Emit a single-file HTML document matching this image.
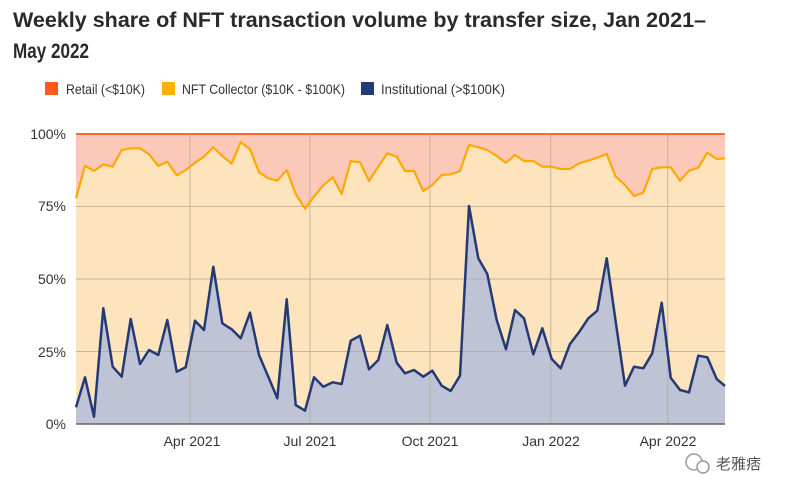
<!DOCTYPE html>
<html><head><meta charset="utf-8"><style>
body{margin:0;background:#fff;width:800px;height:498px;overflow:hidden;font-family:"Liberation Sans",sans-serif}
svg text{font-family:"Liberation Sans","Noto Sans CJK SC",sans-serif}
</style></head><body>
<svg width="800" height="498" viewBox="0 0 800 498">
<text x="13" y="27" font-size="21" font-weight="bold" fill="#2a2a2a" textLength="693" lengthAdjust="spacingAndGlyphs">Weekly share of NFT transaction volume by transfer size, Jan 2021–</text>
<text x="13" y="58" font-size="21" font-weight="bold" fill="#2a2a2a" textLength="76" lengthAdjust="spacingAndGlyphs">May 2022</text>
<rect x="45" y="82" width="13" height="13" fill="#ff5a14"/>
<text x="66" y="94" font-size="14" fill="#333" textLength="79" lengthAdjust="spacingAndGlyphs">Retail (&lt;$10K)</text>
<rect x="162" y="82" width="13" height="13" fill="#ffb000"/>
<text x="182" y="94" font-size="14" fill="#333" textLength="163" lengthAdjust="spacingAndGlyphs">NFT Collector ($10K - $100K)</text>
<rect x="361" y="82" width="13" height="13" fill="#253a75"/>
<text x="381" y="94" font-size="14" fill="#333" textLength="124" lengthAdjust="spacingAndGlyphs">Institutional (&gt;$100K)</text>

<rect x="76" y="134" width="649" height="290" fill="#fcc9b8"/>
<polygon fill="#fde4bd" points="76,424 76,198.3 85,165.7 94,171 103.3,164.3 112.7,166.7 121.7,150 130.7,148.3 140,148.3 149,154.3 158.3,166 167.3,161.7 176.7,175.3 185.7,170 195,162.7 204,156.7 213.3,147.3 222.3,156 231.7,163.7 240.7,142 250,149.3 259,172.3 268.3,178.3 277.3,180.7 286.7,170 295.7,194 305,208.7 314,196.7 323.3,185.3 332.7,177.3 341.7,194 350.7,161 360,162.3 369,181 378.3,166.7 387.3,153.3 396.7,156.7 405,171 414,171 423.3,191 432.3,185 441.7,175 450.7,174.3 460,171 469,145 478.3,147.3 487.3,150 496.7,156 506,162.7 515,155 524,161 533.3,161 542.3,166.7 551.7,166.7 560.7,169 570,169 579,163.3 588.3,160.7 597.3,157.7 606.7,154 615.7,176.7 625,185 634,196 643.3,192.7 652.3,169 661.7,167.3 670.7,167.3 680,180.7 689,170.7 698.3,167.7 707.3,152.7 716.7,159 725,158.3 725,424"/>
<polygon fill="#bfc3d6" points="76,424 76,407.3 85,377.3 94,416.7 103.3,308.3 112.7,366.7 121.7,376.7 130.7,319 140,364 149,350 158.3,355 167.3,320 176.7,371.7 185.7,367.3 195,320.7 204,330 213.3,266.7 222.3,323.3 231.7,329.3 240.7,338.3 250,312.7 259,355 268.3,376.7 277.3,398.3 286.7,299.3 295.7,405 305,410.7 314,377.3 323.3,386.7 332.7,382.3 341.7,384 350.7,340.7 360,335.7 369,369.3 378.3,360 387.3,325 396.7,362.7 405,373.3 414,370 423.3,376.7 432.3,370.7 441.7,385.7 450.7,391 460,375.7 469,206 478.3,258.3 487.3,274 496.7,320 506,349.3 515,310 524,318.3 533.3,354.3 542.3,328.3 551.7,359 560.7,368.3 570,344 579,332.3 588.3,318.3 597.3,310.7 606.7,258.3 615.7,321.7 625,385.7 634,366.7 643.3,368.3 652.3,353.3 661.7,302.7 670.7,377.7 680,390 689,392.3 698.3,355.7 707.3,357.3 716.7,379 725,386 725,424"/>
<g stroke="#b8ab98" stroke-width="1" opacity="0.8">
<line x1="76" y1="206.5" x2="725" y2="206.5"/><line x1="76" y1="279" x2="725" y2="279"/><line x1="76" y1="351.5" x2="725" y2="351.5"/>
<line x1="190" y1="134" x2="190" y2="424"/><line x1="310" y1="134" x2="310" y2="424"/><line x1="430" y1="134" x2="430" y2="424"/><line x1="550.7" y1="134" x2="550.7" y2="424"/><line x1="667.7" y1="134" x2="667.7" y2="424"/>
</g>
<line x1="76" y1="134" x2="725" y2="134" stroke="#ff6a2a" stroke-width="2"/>
<polyline fill="none" stroke="#ffa800" stroke-width="2.2" stroke-linejoin="round" points="76,198.3 85,165.7 94,171 103.3,164.3 112.7,166.7 121.7,150 130.7,148.3 140,148.3 149,154.3 158.3,166 167.3,161.7 176.7,175.3 185.7,170 195,162.7 204,156.7 213.3,147.3 222.3,156 231.7,163.7 240.7,142 250,149.3 259,172.3 268.3,178.3 277.3,180.7 286.7,170 295.7,194 305,208.7 314,196.7 323.3,185.3 332.7,177.3 341.7,194 350.7,161 360,162.3 369,181 378.3,166.7 387.3,153.3 396.7,156.7 405,171 414,171 423.3,191 432.3,185 441.7,175 450.7,174.3 460,171 469,145 478.3,147.3 487.3,150 496.7,156 506,162.7 515,155 524,161 533.3,161 542.3,166.7 551.7,166.7 560.7,169 570,169 579,163.3 588.3,160.7 597.3,157.7 606.7,154 615.7,176.7 625,185 634,196 643.3,192.7 652.3,169 661.7,167.3 670.7,167.3 680,180.7 689,170.7 698.3,167.7 707.3,152.7 716.7,159 725,158.3"/>
<polyline fill="none" stroke="#253a75" stroke-width="2.5" stroke-linejoin="round" points="76,407.3 85,377.3 94,416.7 103.3,308.3 112.7,366.7 121.7,376.7 130.7,319 140,364 149,350 158.3,355 167.3,320 176.7,371.7 185.7,367.3 195,320.7 204,330 213.3,266.7 222.3,323.3 231.7,329.3 240.7,338.3 250,312.7 259,355 268.3,376.7 277.3,398.3 286.7,299.3 295.7,405 305,410.7 314,377.3 323.3,386.7 332.7,382.3 341.7,384 350.7,340.7 360,335.7 369,369.3 378.3,360 387.3,325 396.7,362.7 405,373.3 414,370 423.3,376.7 432.3,370.7 441.7,385.7 450.7,391 460,375.7 469,206 478.3,258.3 487.3,274 496.7,320 506,349.3 515,310 524,318.3 533.3,354.3 542.3,328.3 551.7,359 560.7,368.3 570,344 579,332.3 588.3,318.3 597.3,310.7 606.7,258.3 615.7,321.7 625,385.7 634,366.7 643.3,368.3 652.3,353.3 661.7,302.7 670.7,377.7 680,390 689,392.3 698.3,355.7 707.3,357.3 716.7,379 725,386"/>
<line x1="76" y1="424" x2="725" y2="424" stroke="#666" stroke-width="1.5"/>
<g font-size="14" fill="#333" text-anchor="end">
<text x="66" y="139">100%</text><text x="66" y="211">75%</text><text x="66" y="284">50%</text><text x="66" y="357">25%</text><text x="66" y="429">0%</text>
</g>
<g font-size="14" fill="#333" text-anchor="middle">
<text x="192" y="446">Apr 2021</text><text x="310" y="446">Jul 2021</text><text x="430" y="446">Oct 2021</text><text x="551" y="446">Jan 2022</text><text x="668" y="446">Apr 2022</text>
</g>
<circle cx="694" cy="462" r="8" fill="none" stroke="#999" stroke-width="1.5"/>
<circle cx="703" cy="467" r="6" fill="#fff" stroke="#999" stroke-width="1.5"/>
<text x="716" y="469" font-size="15" fill="#555">老雅痞</text>
</svg>
</body></html>
